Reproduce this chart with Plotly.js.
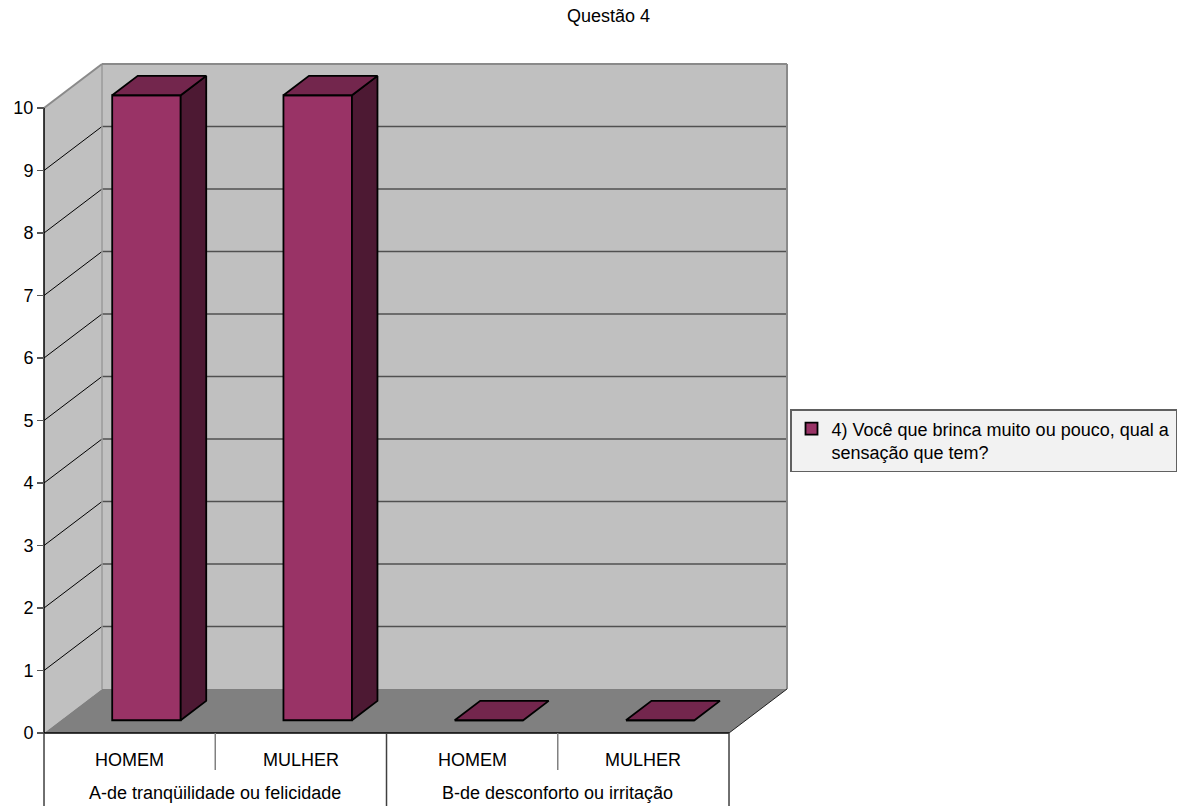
<!DOCTYPE html>
<html>
<head>
<meta charset="utf-8">
<script src="https://cdn.plot.ly/plotly-3.0.1.min.js"></script>
<style>
  html, body { margin: 0; padding: 0; background: #ffffff; }
  #chart { width: 1178px; height: 806px; }
</style>
</head>
<body>
<div id="chart"></div>
<script>
// Questão 4 – respostas por sexo
const sexes = ['HOMEM', 'MULHER', 'HOMEM', 'MULHER'];
const groupNames = ['A-de tranqüilidade ou felicidade', 'B-de desconforto ou irritação'];
const counts = [10, 10, 0, 0];
const yTicks = [0, 1, 2, 3, 4, 5, 6, 7, 8, 9, 10];
const seriesName = '4) Você que brinca muito ou pouco, qual a<br>sensação que tem?';
const chartTitle = 'Questão 4';

// Oblique "3D" projection: the depth of the floor expressed in axis units
const DX = 0.3387, DY = 0.704;
const NEAR = 0.29, FAR = 0.73;   // depth slice occupied by each column
const HALF = 0.2;                // half of the column width, in category units
const yMax = yTicks[yTicks.length - 1];
const nCat = counts.length;

const FONT = 'Liberation Sans, Arial, sans-serif';
const FS = 18;

const xRange = [-0.0234, -0.0234 + 750 / 171.25];
const yRange = [-0.048, -0.048 + 675 / 62.5];
const zeroPaper = (0 - yRange[0]) / (yRange[1] - yRange[0]);

const centers = counts.map((_, i) => i + 0.5);

// front faces of the columns
const front = {
  type: 'bar',
  name: seriesName,
  x: centers.map(c => c + NEAR * DX),
  y: counts,
  base: counts.map(() => NEAR * DY),
  width: 2 * HALF,
  marker: { color: '#993366', line: { color: '#000000', width: 1.8 } },
  showlegend: true,
  hoverinfo: 'skip'
};

// right-hand side faces and top faces built from the same values
const sideX = [], sideY = [], topX = [], topY = [];
counts.forEach((v, i) => {
  const c = centers[i];
  const r = c + HALF, l = c - HALF;
  if (v > 0) {
    sideX.push(r + NEAR * DX, r + NEAR * DX, r + FAR * DX, r + FAR * DX, r + NEAR * DX, null);
    sideY.push(NEAR * DY, v + NEAR * DY, v + FAR * DY, FAR * DY, NEAR * DY, null);
  }
  topX.push(l + NEAR * DX, r + NEAR * DX, r + FAR * DX, l + FAR * DX, l + NEAR * DX, null);
  topY.push(v + NEAR * DY, v + NEAR * DY, v + FAR * DY, v + FAR * DY, v + NEAR * DY, null);
});

const sides = {
  type: 'scatter', mode: 'lines', x: sideX, y: sideY, fill: 'toself',
  fillcolor: '#4d1933', line: { color: '#000000', width: 1.8 },
  showlegend: false, hoverinfo: 'skip'
};
const tops = {
  type: 'scatter', mode: 'lines', x: topX, y: topY, fill: 'toself',
  fillcolor: '#73264d', line: { color: '#000000', width: 1.8 },
  showlegend: false, hoverinfo: 'skip'
};

// walls, floor and gridlines
const shapes = [];
const ln = (x0, y0, x1, y1, color, width) => ({
  type: 'line', xref: 'x', yref: 'y', x0, y0, x1, y1, layer: 'below',
  line: { color, width }
});

shapes.push({ type: 'path', xref: 'x', yref: 'y', layer: 'below',
  path: `M0,0 L0,${yMax} L${DX},${yMax + DY} L${DX},${DY} Z`,
  fillcolor: '#c0c0c0', line: { width: 0 } });
shapes.push({ type: 'rect', xref: 'x', yref: 'y', layer: 'below',
  x0: DX, x1: nCat + DX, y0: DY, y1: yMax + DY,
  fillcolor: '#c0c0c0', line: { width: 0 } });
shapes.push({ type: 'path', xref: 'x', yref: 'y', layer: 'below',
  path: `M0,0 L${nCat},0 L${nCat + DX},${DY} L${DX},${DY} Z`,
  fillcolor: '#808080', line: { width: 0 } });

yTicks.forEach(v => {
  if (v > 0 && v < yMax) {
    shapes.push(ln(0, v, DX, v + DY, '#000000', 1));
    shapes.push(ln(DX, v + DY, nCat + DX, v + DY, '#505050', 1.6));
  }
});

// wall borders
shapes.push(ln(DX, DY, DX, yMax + DY, '#9a9a9a', 1.5));
shapes.push(ln(0, yMax, DX, yMax + DY, '#8a8a8a', 2));
shapes.push(ln(DX, yMax + DY, nCat + DX, yMax + DY, '#8a8a8a', 2));
shapes.push(ln(nCat + DX, DY, nCat + DX, yMax + DY, '#8a8a8a', 2));
// value axis line and floor edges
shapes.push(ln(0, 0, 0, yMax, '#000000', 1.5));
shapes.push(ln(0, 0, nCat, 0, '#000000', 1.5));
shapes.push(ln(nCat, 0, nCat + DX, DY, '#202020', 1));

// category table under the floor
for (let k = 0; k <= nCat; k++) {
  const outer = k % 2 === 0;
  shapes.push({
    type: 'line', xref: 'x', yref: 'paper', ysizemode: 'pixel', yanchor: zeroPaper,
    x0: k, x1: k, y0: 0, y1: outer ? -75 : -37,
    line: { color: outer ? '#404040' : '#808080', width: 1.5 }
  });
}

const annotations = [];
sexes.forEach((s, i) => annotations.push({
  text: s, x: centers[i], xref: 'x', y: zeroPaper, yref: 'paper',
  xanchor: 'center', yanchor: 'middle',
  yshift: -27, showarrow: false, font: { family: FONT, size: FS, color: '#000000' }
}));
groupNames.forEach((g, j) => annotations.push({
  text: g, x: 2 * j + 1, xref: 'x', y: zeroPaper, yref: 'paper',
  xanchor: 'center', yanchor: 'middle',
  yshift: -60, showarrow: false, font: { family: FONT, size: FS, color: '#000000' }
}));

const layout = {
  width: 1178, height: 806,
  margin: { l: 40, r: 388, t: 61, b: 70, autoexpand: false },
  paper_bgcolor: '#ffffff', plot_bgcolor: 'rgba(0,0,0,0)',
  title: { text: chartTitle, xref: 'container', yref: 'container', x: 0.5166, y: 1 - 16 / 806,
    xanchor: 'center', yanchor: 'middle', font: { family: FONT, size: FS, color: '#000000' } },
  font: { family: FONT, size: FS, color: '#000000' },
  xaxis: { range: xRange, visible: false, fixedrange: true },
  yaxis: { range: yRange, anchor: 'free', position: 4 / 750, tickvals: yTicks,
    ticks: 'outside', ticklen: 7, tickwidth: 1.5, tickcolor: '#555555',
    showgrid: false, zeroline: false, showline: false, fixedrange: true,
    tickfont: { family: FONT, size: FS, color: '#000000' } },
  shapes, annotations,
  showlegend: true,
  legend: { x: 1.0, y: (736 - 409) / 675, xanchor: 'left', yanchor: 'top', valign: 'top',
    bgcolor: '#f2f2f2', bordercolor: '#606060', borderwidth: 1.5,
    font: { family: FONT, size: FS, color: '#000000' } },
  hovermode: false,
  bargap: 0
};

Plotly.newPlot('chart', [front, sides, tops], layout, { displayModeBar: false, staticPlot: true });
</script>
</body>
</html>
